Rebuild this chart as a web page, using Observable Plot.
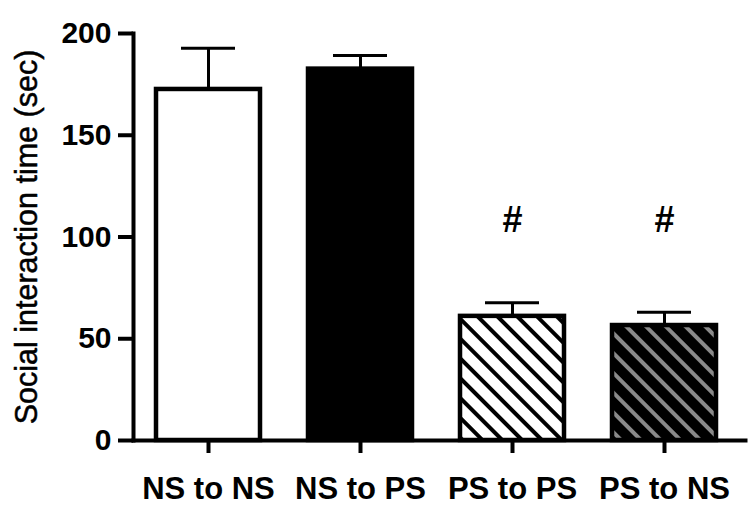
<!DOCTYPE html>
<html><head><meta charset="utf-8">
<script src="https://cdn.jsdelivr.net/npm/d3@7"></script>
<script src="https://cdn.jsdelivr.net/npm/@observablehq/plot@0.6"></script>
<style>body{margin:0;background:#fff} svg{display:block}</style>
</head><body><div id="chart"></div>
<script>
const groups = ["NS to NS", "NS to PS", "PS to PS", "PS to NS"];
const means = [172.5, 182.5, 61, 56.5];
const errors = [20.3, 6.7, 6.7, 6.5];
const marksText = ["", "", "#", "#"];
const marksY = [null, null, 108, 108];
const fills = ["white", "black", "url(#hatchBlack)", "url(#hatchGray)"];
const yTicks = [0, 50, 100, 150, 200];
const yLabel = "Social interaction time (sec)";

const data = groups.map((g, i) => ({group: g, mean: means[i], upper: means[i] + errors[i], mark: marksText[i], markY: marksY[i], fill: fills[i]}));

const font = "'Liberation Sans', Arial, sans-serif";
const svg = Plot.plot({
  width: 750, height: 506,
  marginTop: 33, marginBottom: 66, marginLeft: 133, marginRight: 5,
  style: {fontFamily: font, background: "white", color: "black", overflow: "visible"},
  x: {domain: groups, paddingInner: 0.317, paddingOuter: 0.167, align: 0.45, axis: null},
  y: {domain: [0, 200], axis: null},
  marks: [
    Plot.ruleX(data, {x: "group", y1: "mean", y2: "upper", stroke: "black", strokeWidth: 3}),
    Plot.tickY(data, {x: "group", y: "upper", stroke: "black", strokeWidth: 3, insetLeft: 25, insetRight: 25}),
    ...data.map((d, i) => Plot.barY([d], {x: "group", y: "mean", fill: fills[i], stroke: "black", strokeWidth: 4.5})),
    Plot.text(data.filter(d => d.mark), {x: "group", y: "markY", text: "mark", fontSize: 36, fontWeight: "bold", fill: "black"}),
    Plot.axisY({ticks: yTicks, tickSize: 15, tickPadding: 7, strokeWidth: 4, fontSize: 30, fontWeight: "bold", label: null, fill: "black"}),
    Plot.axisX({tickSize: 13, tickPadding: 23, strokeWidth: 4, fontSize: 31, fontWeight: "bold", label: null, fill: "black"}),
    Plot.frame({anchor: "left", strokeWidth: 4, stroke: "black"}),
    Plot.frame({anchor: "bottom", strokeWidth: 4, stroke: "black"}),
    Plot.text([yLabel], {frameAnchor: "left", textAnchor: "middle", lineAnchor: "middle", rotate: -90, dx: -106, fontSize: 30.5, fill: "black", stroke: "black", strokeWidth: 0.5, text: d => d})
  ]
});

d3.select(svg).insert("defs", ":first-child").html(`
  <pattern id="hatchBlack" patternUnits="userSpaceOnUse" width="14" height="14" patternTransform="rotate(-45)">
    <rect width="14" height="14" fill="white"/><rect width="4" height="14" fill="black"/>
  </pattern>
  <pattern id="hatchGray" patternUnits="userSpaceOnUse" width="14" height="14" patternTransform="rotate(-45)">
    <rect width="14" height="14" fill="black"/><rect width="4" height="14" fill="#8a8a8a"/>
  </pattern>`);

document.getElementById("chart").appendChild(svg);
</script>
</body></html>
